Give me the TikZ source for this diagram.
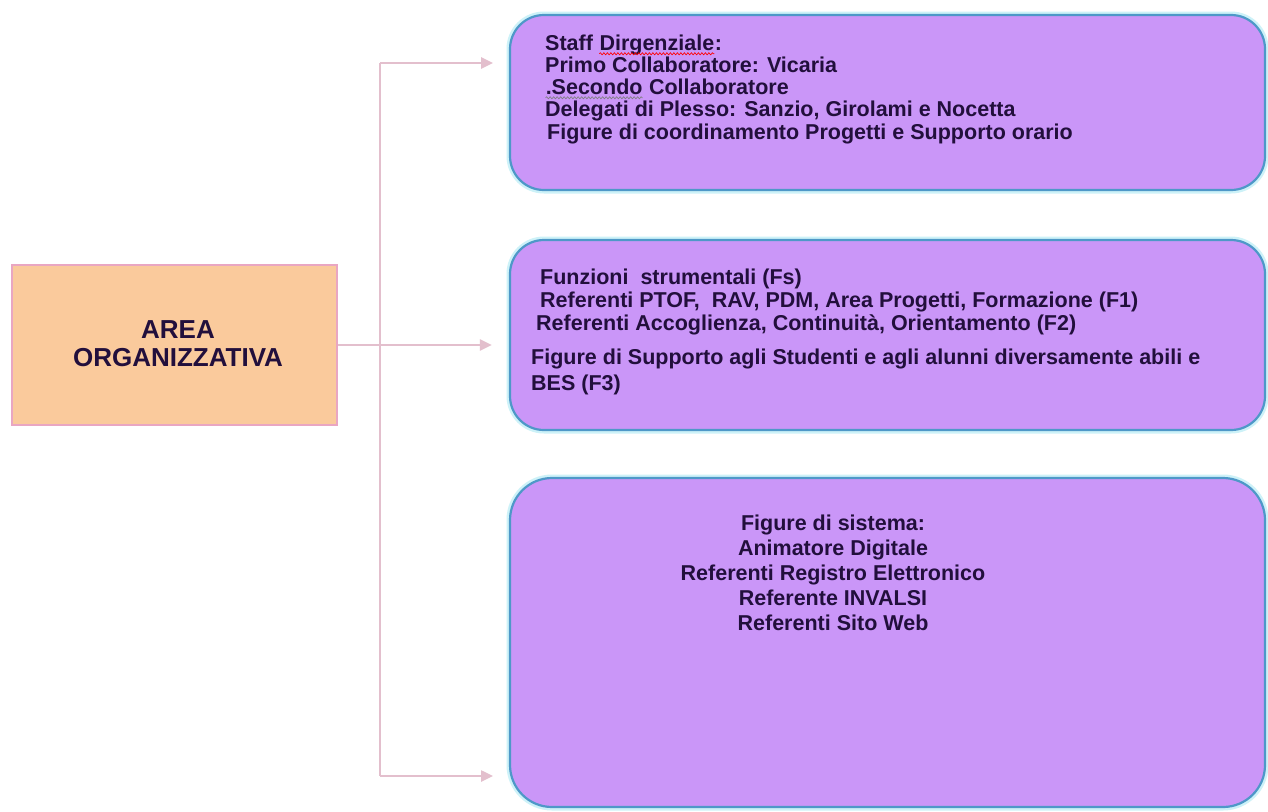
\documentclass[tikz,border=0pt]{standalone}
\usepackage{fontspec}
\setmainfont{Liberation Sans}
\usetikzlibrary{arrows.meta,decorations.pathmorphing}
\definecolor{purp}{HTML}{CA96F8}
\definecolor{bordc}{HTML}{4E98C8}
\definecolor{glowc}{HTML}{CDF2F8}
\definecolor{orangec}{HTML}{FACA9C}
\definecolor{orgbord}{HTML}{E9A6C2}
\definecolor{connc}{HTML}{E3BFCD}
\definecolor{textc}{HTML}{220F3C}
\newcommand\wavy[3]{\tikz[baseline=(#2.base)]{\node[inner sep=0pt] (#2) {#3};
  \draw[#1, line width=0.7pt, decorate, decoration={snake, amplitude=1pt, segment length=3.5pt}]
    ([yshift=-3pt]#2.base west) -- ([yshift=-3pt]#2.base east);}}
\begin{document}
\begin{tikzpicture}[x=1pt,y=-1pt,
  txt/.style={text=textc, inner sep=0pt, font=\fontsize{21.5}{22}\selectfont\bfseries},
  purplebox/.style={fill=purp, draw=bordc, line width=2.2pt, rounded corners=34pt,
    minimum width=755pt, inner sep=0pt, preaction={draw=glowc, line width=7pt}},
  orgbox/.style={fill=orangec, draw=orgbord, line width=2.5pt, minimum width=325pt,
    minimum height=160pt, inner sep=0pt},
  conn/.style={draw=connc, line width=2.5pt},
  arr/.style={conn, -{Triangle[length=12pt,width=11pt]}}]
\useasboundingbox (0,0) rectangle (1268,811);
\fill[white] (0,0) rectangle (1268,811);
% boxes
\node[orgbox] (org) at (174.5,345) {};
\node[purplebox, minimum height=175pt] (b1) at (887.5,102.5) {};
\node[purplebox, minimum height=190pt] (b2) at (887.5,335) {};
\node[purplebox, minimum height=329pt, rounded corners=42pt] (b3) at (887.5,642.5) {};
% texts
\node[txt, align=center, font=\fontsize{26}{28}\selectfont\bfseries] (orgt) at (178,344) {AREA\\ORGANIZZATIVA};
\node[txt, align=left, anchor=north west] (t1) at (545,35) {Staff \wavy{red}{wa}{Dirgenziale}:\\
Primo Collaboratore: Vicaria\\
\wavy{gray}{wb}{.Secondo} Collaboratore\\
Delegati di Plesso: Sanzio, Girolami e Nocetta\\[1pt]
\hspace{2pt}Figure di coordinamento Progetti e Supporto orario};
\node[txt, align=left, anchor=north west, font=\fontsize{21.5}{23}\selectfont\bfseries] (t2) at (531,269) {\hspace{9pt}Funzioni\ \ strumentali (Fs)\\
\hspace{9pt}Referenti PTOF,\ \ RAV, PDM, Area Progetti, Formazione (F1)\\
\hspace{5pt}Referenti Accoglienza, Continuità,\ Orientamento (F2)\\[11pt]
Figure di\ Supporto\ agli\ Studenti e agli alunni\ diversamente abili e\\[3pt]
BES (F3)};
\node[txt, align=center, anchor=north, font=\fontsize{21.5}{25}\selectfont\bfseries] (t3) at (833,515) {Figure di sistema:\\
Animatore Digitale\\
Referenti Registro Elettronico\\
Referente INVALSI\\
Referenti Sito Web};
% connectors
\coordinate (jt) at (380,63);
\coordinate (jb) at (380,776);
\coordinate (a1) at (493,63);
\coordinate (a3) at (493,776);
\draw[conn] (jt) -- (jb);
\draw[arr] (jt) -- (a1);
\draw[arr] (jb) -- (a3);
\draw[arr, shorten >=17pt] (org.east) -- (org.east -| b2.west);
\end{tikzpicture}
\end{document}
